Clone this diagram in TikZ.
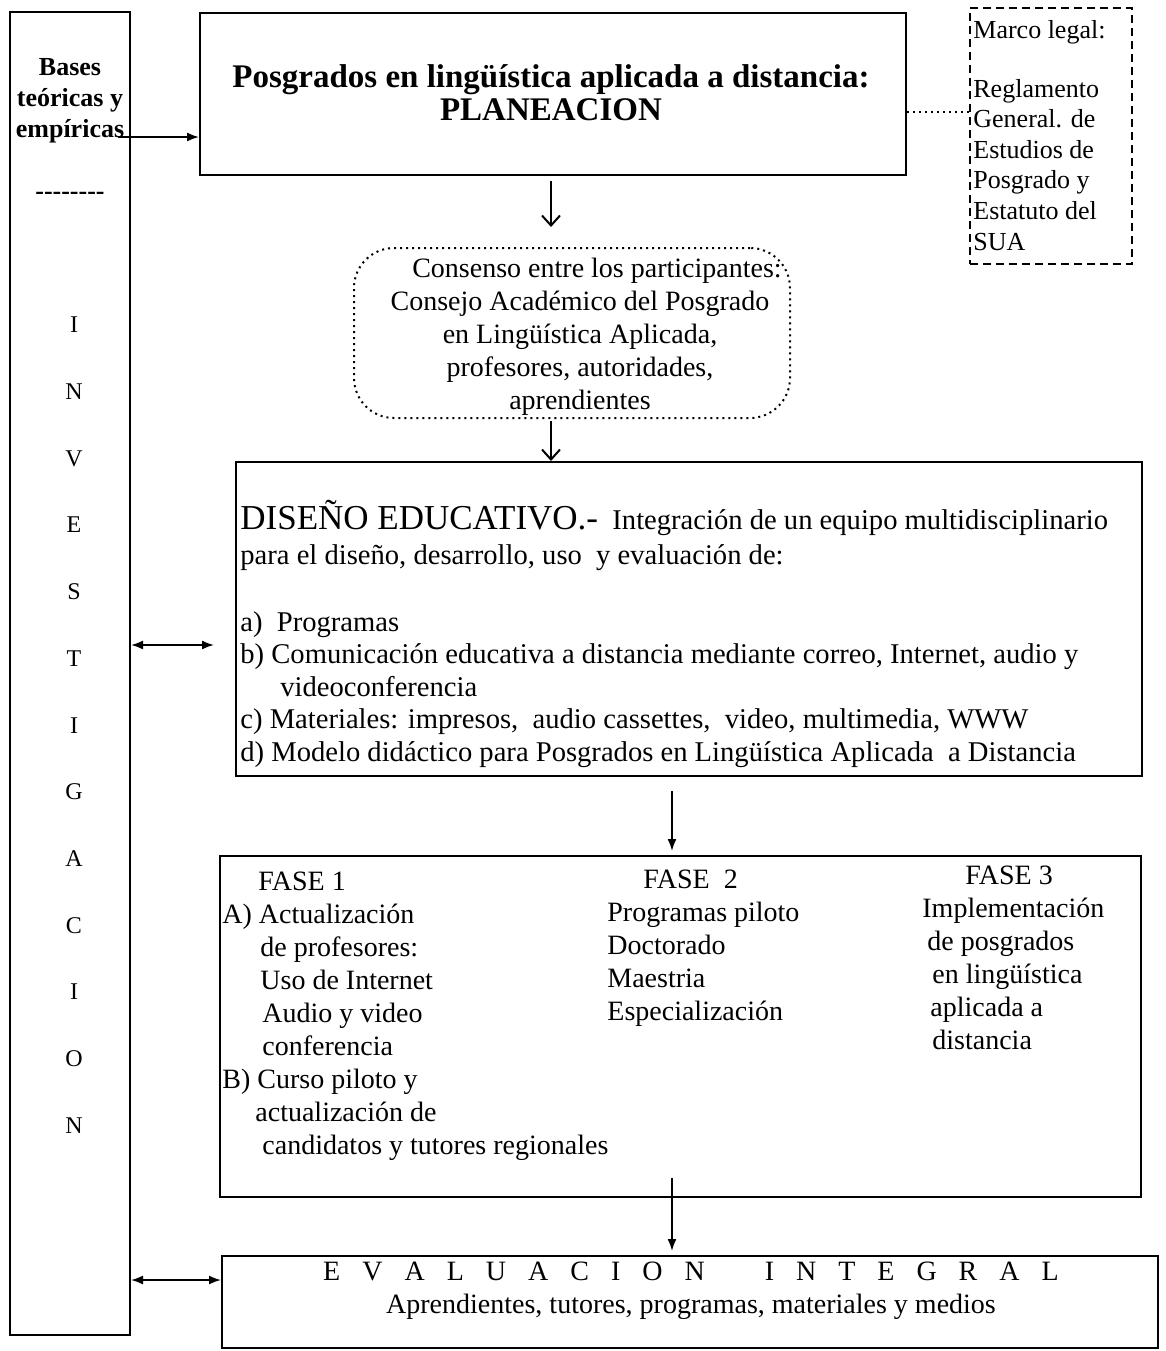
\documentclass[tikz,border=0pt]{standalone}
\usepackage{fontspec}
\setmainfont{Liberation Serif}
\usetikzlibrary{arrows.meta,fit}
\newcommand{\ls}{\hspace{11pt}}
\tikzset{
  caja/.style={draw, line width=1pt, inner sep=0pt},
  txt/.style={inner sep=0pt, align=left, font=\fontsize{14}{16.5}\selectfont},
  flecha/.style={line width=0.9pt, -{Latex[length=6pt,width=4.5pt]}},
  doble/.style={line width=0.9pt, {Latex[length=6pt,width=4.5pt]}-{Latex[length=6pt,width=4.5pt]}},
  abierta/.style={line width=1pt, -{Straight Barb[length=5pt,width=9pt]}}
}
\begin{document}
\begin{tikzpicture}[x=0.5pt,y=-0.5pt]
\useasboundingbox (0,0) rectangle (1166,1351);
\node[caja, fit={(10,12) (130,1335)}] (invest) {};
\node[caja, fit={(200,13) (906,175)}] (plan) {};
\node[caja, dash pattern=on 4pt off 2.5pt, fit={(970,8) (1132,264)}] (marco) {};
\node[caja, dash pattern=on 1pt off 2pt, rounded corners=20pt, fit={(354,248) (790,418)}] (consenso) {};
\node[caja, fit={(236,462) (1142,776)}] (diseno) {};
\node[caja, fit={(220,856) (1141,1197)}] (fases) {};
\node[caja, fit={(222,1256) (1158,1348)}] (evalu) {};

\node[txt, align=center, anchor=base, font=\bfseries\fontsize{13}{15.5}\selectfont] (bases) at (70,137) {Bases\\teóricas y\\empíricas};
\node[txt, anchor=base, font=\bfseries\fontsize{13}{15}\selectfont] (guiones) at (70,199) {{-}{-}{-}{-}{-}{-}{-}{-}};
\foreach \l [count=\i] in {I,N,V,E,S,T,I,G,A,C,I,O,N}
  \node[txt, font=\fontsize{12}{14}\selectfont] (inv\i) at (74,{325+(\i-1)*66.7}) {\l};

\node[txt, align=center, anchor=base, font=\bfseries\fontsize{16.5}{16.5}\selectfont] (titulo) at (551,120) {Posgrados en lingüística aplicada a distancia:\\PLANEACION};
\node[txt, anchor=base west, font=\fontsize{13}{15.3}\selectfont] (legal) at (973,250) {Marco legal:\\[14pt]Reglamento\\General. de\\Estudios de\\Posgrado y\\Estatuto del\\SUA};
\node[txt, align=center, anchor=base] (particip) at (580,409) {\hspace*{17pt}Consenso entre los participantes:\\Consejo Académico del Posgrado\\en Lingüística Aplicada,\\profesores, autoridades,\\aprendientes};
\node[txt, anchor=base west, font=\fontsize{14.3}{16.2}\selectfont] (disenotxt) at (240,761) {{\fontsize{17.5}{16.2}\selectfont DISEÑO EDUCATIVO.-}~~Integración de un equipo multidisciplinario\\[1pt]para el diseño, desarrollo, uso~ y evaluación de:\\[17.5pt]a)~~Programas\\b) Comunicación educativa a distancia mediante correo, Internet, audio y\\\hspace*{20pt}videoconferencia\\c) Materiales: impresos,~ audio cassettes,~ video, multimedia, WWW\\d) Modelo didáctico para Posgrados en Lingüística Aplicada~ a Distancia};
\node[txt, anchor=base west] (fase1) at (222,1154) {\hspace*{18pt}FASE 1\\A) Actualización\\\hspace*{19pt}de profesores:\\\hspace*{19pt}Uso de Internet\\\hspace*{20pt}Audio y video\\\hspace*{20pt}conferencia\\B) Curso piloto y\\\hspace*{16.5pt}actualización de\\\hspace*{20pt}candidatos y tutores regionales};
\node[txt, anchor=base west] (fase2) at (607,1020) {\hspace*{18pt}FASE~~2\\Programas piloto\\Doctorado\\Maestria\\Especialización};
\node[txt, anchor=base west] (fase3) at (922,1049) {\hspace*{21.5pt}FASE 3\\Implementación\\\hspace*{2.5pt}de posgrados\\\hspace*{5pt}en lingüística\\\hspace*{4pt}aplicada a\\\hspace*{5pt}distancia};
\node[txt, align=center, anchor=base] (evaltxt) at (691,1313) {E\ls V\ls A\ls L\ls U\ls A\ls C\ls I\ls O\ls N\hspace{30pt}I\ls N\ls T\ls E\ls G\ls R\ls A\ls L\\Aprendientes, tutores, programas, materiales y medios};

\coordinate (basesout) at (118,137);
\draw[flecha] (basesout) -- (basesout -| plan.west);
\draw[dotted, line width=1pt] (plan.east |- 0,112) -- (marco.west |- 0,112);
\draw[abierta, shorten <=2.5pt, shorten >=10pt] (plan.south -| 551,0) -- (consenso.north -| 551,0);
\draw[abierta, shorten <=1pt] (consenso.south -| 551,0) -- (diseno.north -| 551,0);
\draw[doble, shorten >=10.5pt] (invest.east |- 0,645) -- (diseno.west |- 0,645);
\draw[flecha, shorten <=7pt, shorten >=2pt] (diseno.south -| 672,0) -- (fases.north -| 672,0);
\draw[flecha, shorten <=-10pt, shorten >=2pt] (fases.south -| 672,0) -- (evalu.north -| 672,0);
\draw[doble] (invest.east |- 0,1280) -- (evalu.west |- 0,1280);
\end{tikzpicture}
\end{document}
